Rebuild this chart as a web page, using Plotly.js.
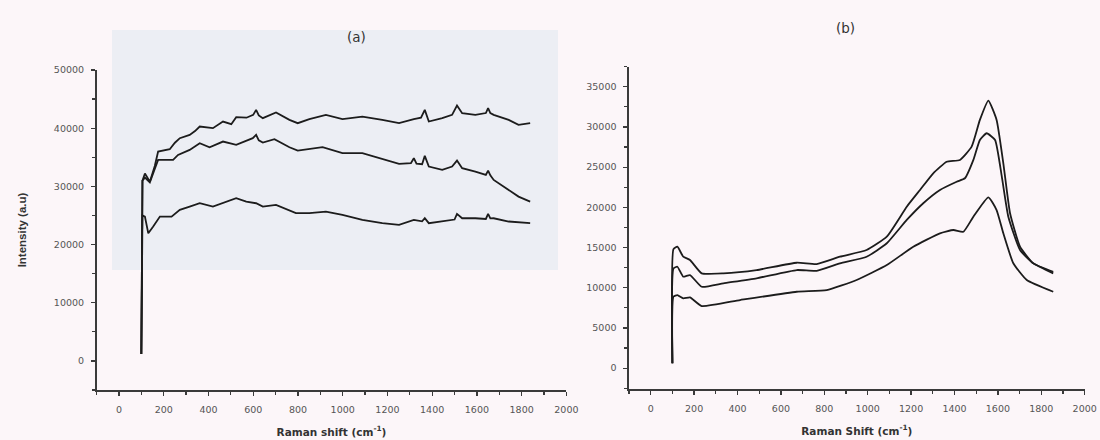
<!DOCTYPE html>
<html>
<head>
<meta charset="utf-8">
<script src="https://cdn.plot.ly/plotly-3.0.1.min.js"></script>
<style>html,body{margin:0;padding:0;background:#fcf6f9;}#chart{width:1100px;height:440px;}</style>
</head>
<body>
<div id="chart"></div>
<script>
// Panel (a) – Raman spectra, three positions
const a1X = [100,105,116,138,160,175,227,250,272,316,340,361,420,465,502,524,570,600,613,625,643,702,762,799,851,925,999,1088,1177,1252,1318,1350,1367,1385,1445,1489,1511,1534,1593,1640,1650,1660,1675,1742,1786,1838];
const a1Y = [1200,31000,32200,30800,33500,35980,36390,37500,38280,38850,39500,40280,40000,41140,40690,41890,41800,42290,43150,42200,41720,42690,41430,40860,41550,42290,41550,42000,41430,40860,41550,41800,43150,41140,41720,42290,43890,42580,42290,42600,43440,42600,42290,41430,40570,40860];

const a2X = [100,105,116,138,160,175,242,264,316,361,405,465,524,598,613,625,643,695,762,799,910,999,1088,1177,1252,1305,1318,1330,1355,1367,1385,1445,1489,1511,1534,1593,1640,1650,1660,1675,1742,1786,1838];
const a2Y = [1200,31000,31500,30700,33000,34550,34550,35410,36270,37420,36730,37700,37130,38280,38850,37900,37530,38110,36730,36150,36730,35700,35700,34670,33860,34000,34840,33900,33800,35240,33400,32830,33400,34430,33120,32540,31970,32700,31900,31110,29390,28240,27380];

const a3X = [100,105,116,131,153,183,235,272,316,361,420,465,524,569,613,643,702,791,851,925,999,1088,1177,1252,1318,1355,1367,1385,1445,1500,1511,1534,1593,1640,1650,1660,1675,1742,1838];
const a3Y = [1200,25000,24800,21950,23090,24800,24800,25960,26520,27100,26520,27100,27970,27380,27100,26520,26820,25390,25390,25670,25100,24240,23670,23380,24240,24000,24520,23670,23960,24300,25270,24520,24520,24400,25270,24500,24520,23960,23670];

// Panel (b) – Raman spectra, three positions
const b1X = [100,105,123,150,181,235,335,488,673,765,872,995,1088,1180,1241,1302,1364,1425,1479,1517,1556,1594,1625,1656,1702,1763,1855];
const b1Y = [600,14800,15100,13860,13450,11790,11790,12200,13110,12950,13860,14690,16350,20080,22160,24240,25680,25900,27550,30880,33280,30880,25480,19260,15100,13030,11990];

const b2X = [100,105,123,150,181,235,335,488,673,765,872,995,1088,1180,1256,1333,1410,1448,1487,1517,1548,1587,1618,1648,1702,1763,1855];
const b2Y = [600,12400,12610,11370,11580,10120,10550,11170,12200,12110,13040,13860,15530,18430,20510,22160,23190,23620,25900,28390,29220,28390,23820,18840,14690,13040,11790];

const b3X = [100,105,123,150,181,235,412,673,811,949,1088,1210,1333,1395,1441,1487,1556,1594,1625,1671,1733,1855];
const b3Y = [600,8900,9090,8680,8800,7720,8470,9500,9710,10960,12820,15100,16770,17180,16970,18840,21250,19670,16770,13040,10960,9500];

const xTicks = [0,200,400,600,800,1000,1200,1400,1600,1800,2000];
const aYTicks = [0,10000,20000,30000,40000,50000];
const bYTicks = [0,5000,10000,15000,20000,25000,30000,35000];

function tr(x,y,xa,ya,smooth){
  const line = {color:'#1c1c1c', width:1.8};
  if (smooth) { line.shape = 'spline'; line.smoothing = 0.45; }
  return {x:x,y:y,xaxis:xa,yaxis:ya,mode:'lines',line:line,hoverinfo:'skip'};
}

const data = [
  tr(a1X,a1Y,'x','y',false), tr(a2X,a2Y,'x','y',false), tr(a3X,a3Y,'x','y',false),
  tr(b1X,b1Y,'x2','y2',true), tr(b2X,b2Y,'x2','y2',true), tr(b3X,b3Y,'x2','y2',true)
];

const tickFont = {family:'DejaVu Sans, Verdana, sans-serif', size:9.5, color:'#555'};
const titleFont = {family:'DejaVu Sans, Verdana, sans-serif', size:10.5, color:'#333', weight:'bold'};
function axisBase(){
  return {showline:true, linecolor:'#3a3a3a', linewidth:1.6, showgrid:false, zeroline:false,
    ticks:'outside', ticklen:4, tickwidth:1.2, tickcolor:'#3a3a3a', tickfont:tickFont,
    fixedrange:true, automargin:false};
}

const xa = Object.assign(axisBase(), {domain:[96.6/1100, 566.4/1100], range:[-100,2000], anchor:'y',
  tickvals:xTicks, ticktext:xTicks.map(String), minor:{dtick:100, ticklen:3, tickcolor:'#3a3a3a', ticks:'outside'},
  ticklabelstandoff:6,
  title:{text:'Raman shift (cm<sup>-1</sup>)', font:titleFont, standoff:14}});
const ya = Object.assign(axisBase(), {domain:[50/440, 370/440], range:[-5000,50000], anchor:'x',
  tickvals:aYTicks, ticktext:aYTicks.map(String), minor:{dtick:5000, ticklen:3, tickcolor:'#3a3a3a', ticks:'outside'},
  ticklabelstandoff:5,
  title:{text:'Intensity (a.u)', font:{family:'Liberation Sans, Arial, sans-serif', size:11.5, color:'#333', weight:'bold'}, standoff:25}});
const xb = Object.assign(axisBase(), {domain:[629/1100, 1084.7/1100], range:[-100,2000], anchor:'y2',
  tickvals:xTicks, ticktext:xTicks.map(String), minor:{dtick:100, ticklen:3, tickcolor:'#3a3a3a', ticks:'outside'},
  ticklabelstandoff:6,
  title:{text:'Raman Shift (cm<sup>-1</sup>)', font:titleFont, standoff:14}});
const yb = Object.assign(axisBase(), {domain:[51/440, 373.3/440], range:[-2600,37500], anchor:'x2',
  tickvals:bYTicks, ticktext:bYTicks.map(String), minor:{dtick:2500, ticklen:3, tickcolor:'#3a3a3a', ticks:'outside'},
  ticklabelstandoff:5});

const layout = {
  width:1100, height:440,
  margin:{l:0,r:0,t:0,b:0},
  paper_bgcolor:'#fcf6f9', plot_bgcolor:'rgba(0,0,0,0)',
  showlegend:false,
  xaxis:xa, yaxis:ya, xaxis2:xb, yaxis2:yb,
  shapes:[
    {type:'rect', xref:'paper', yref:'paper', x0:112/1100, x1:558/1100, y0:(440-270)/440, y1:(440-30)/440,
     fillcolor:'#eceef4', line:{width:0}, layer:'below'}
  ],
  annotations:[
    {text:'(a)', xref:'paper', yref:'paper', x:345/1100, y:(440-27)/440, showarrow:false,
     font:{family:'DejaVu Sans, Verdana, sans-serif', size:13.5, color:'#333'}},
    {text:'(b)', xref:'paper', yref:'paper', x:857/1100, y:(440-18)/440, showarrow:false,
     font:{family:'DejaVu Sans, Verdana, sans-serif', size:13.5, color:'#333'}}
  ]
};

Plotly.newPlot('chart', data, layout, {displayModeBar:false, staticPlot:true});
</script>
</body>
</html>
